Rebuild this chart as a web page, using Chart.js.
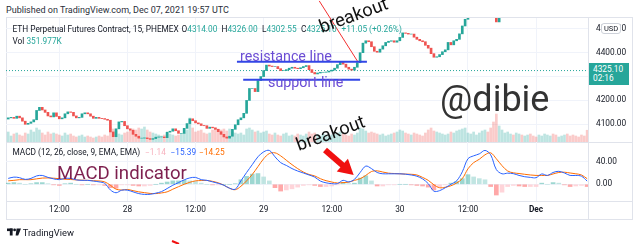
<!DOCTYPE html>
<html>
<head>
<meta charset="utf-8">
<script src="https://cdn.jsdelivr.net/npm/chart.js@4.4.0/dist/chart.umd.min.js"></script>
<style>
body{margin:0;width:640px;height:244px;overflow:hidden;position:relative;background:#fff;font-family:Roboto,sans-serif;color:#131722}
.t{position:absolute;white-space:nowrap;line-height:1}
.ln{position:absolute;background:#e0e3eb}
canvas{position:absolute;left:0}
.v{color:#26a69a}
</style>
</head>
<body>
<div class="t" style="left:6px;top:6.3px;font-size:9px;color:#2a2e39">Published on TradingView.com, Dec 07, 2021 19:57 UTC</div>

<div class="ln" style="left:6px;top:17px;width:627px;height:1px"></div>
<div class="ln" style="left:6px;top:17px;width:1px;height:203px"></div>
<div class="ln" style="left:632px;top:17px;width:1px;height:203px"></div>
<div class="ln" style="left:6px;top:219px;width:627px;height:1px"></div>
<div class="ln" style="left:6px;top:142px;width:627px;height:1px"></div>
<div class="ln" style="left:6px;top:201px;width:627px;height:1px"></div>
<div class="ln" style="left:588px;top:17px;width:1px;height:203px"></div>

<canvas id="priceChart" width="640" height="142" style="top:0"></canvas>
<canvas id="macdChart" width="640" height="78" style="top:142px"></canvas>

<!-- legends -->
<div class="t" style="left:12.5px;top:24.9px;font-size:8.3px">ETH Perpetual Futures Contract, 15, PHEMEX</div>
<div class="t" style="left:181.5px;top:24.9px;font-size:8.3px">O<span class="v">4314.00</span></div>
<div class="t" style="left:221.5px;top:24.9px;font-size:8.3px">H<span class="v">4326.00</span></div>
<div class="t" style="left:262px;top:24.9px;font-size:8.3px">L<span class="v">4302.55</span></div>
<div class="t" style="left:301px;top:24.9px;font-size:8.3px">C<span class="v">4325.10</span></div>
<div class="t v" style="left:341.5px;top:24.9px;font-size:8.3px">+11.05 (+0.26%)</div>
<div class="t" style="left:12.5px;top:36.6px;font-size:8.3px">Vol <span class="v">351.977K</span></div>
<div class="t" style="left:12.5px;top:148.2px;font-size:8.3px">MACD (12, 26, close, 9, EMA, EMA)</div>
<div class="t" style="left:145px;top:148.2px;font-size:8.3px;color:#f7b2be">−1.14</div>
<div class="t" style="left:170.5px;top:148.2px;font-size:8.3px;color:#2962ff">−15.39</div>
<div class="t" style="left:199px;top:148.2px;font-size:8.3px;color:#ff6d00">−14.25</div>

<!-- price axis badges -->
<div style="position:absolute;left:601px;top:23px;width:20px;height:11px;box-sizing:border-box;border:1px solid #cdd1d9;border-radius:3px;background:#fff;font-size:7.5px;line-height:9px;text-align:center">USD</div>
<div style="position:absolute;left:589px;top:63px;width:40px;height:22px;background:#26a69a;color:#fff;font-size:8.3px;line-height:9.5px;padding:1.5px 0 0 4px;box-sizing:border-box">4325.10<br>02:16</div>

<!-- hand-drawn notes -->
<div class="t" style="left:240px;top:48.5px;font-size:14.3px;color:#6a4cd4">resistance line</div>
<div class="t" style="left:268px;top:74.5px;font-size:14.3px;color:#6a4cd4">support line</div>
<div class="t" style="left:322px;top:17.6px;font-size:18.3px;color:#111;transform:rotate(-20deg);transform-origin:0 15.4px">breakout</div>
<div class="t" style="left:299px;top:135.6px;font-size:18.3px;color:#111;transform:rotate(-20deg);transform-origin:0 15.4px">breakout</div>
<div class="t" style="left:440px;top:81.2px;font-size:36px;color:#333">@dibie</div>
<div class="t" style="left:57px;top:163.6px;font-size:18.6px;color:#7d1f4e">MACD indicator</div>

<svg width="640" height="244" style="position:absolute;left:0;top:0">
  <g transform="translate(325,150) rotate(41)" fill="#f01010">
    <rect x="0" y="-3" width="26" height="6"/>
    <polygon points="23,-8.5 38,0 23,8.5"/>
  </g>
  <line x1="172" y1="241" x2="179" y2="244" stroke="#f01010" stroke-width="2"/>
  <g fill="#131722">
    <rect x="7" y="228.5" width="5.6" height="2.6"/>
    <rect x="9.8" y="228.5" width="2.8" height="7"/>
    <circle cx="14.6" cy="229.9" r="1.4"/>
    <polygon points="16.6,228.5 21,228.5 18.2,235.5 15.6,235.5"/>
  </g>
</svg>
<div class="t" style="left:22.7px;top:227.6px;font-size:9.3px">TradingView</div>

<script>
// time axis: hours since Nov 27 00:00
const tickHours = [12, 24, 36, 48, 60, 72, 84, 96];
const tickLabels = ['12:00', '28', '12:00', '29', '12:00', '30', '12:00', 'Dec'];
const priceTicks = [4100, 4200, 4300, 4400, 4500];
const macdTicks = [0, 40];

// 30 minute candles from h=3
const candleStart = 3;
const candleStep = 0.5;
const firstOpen = 4122;
const closes = [
  4127, 4129, 4125, 4134, 4127, 4113, 4100, 4104, 4110, 4119,
  4158, 4171, 4160, 4150, 4135, 4131, 4148, 4133, 4123, 4127,
  4144, 4152, 4150, 4135, 4127, 4129, 4144, 4148, 4144, 4134,
  4125, 4129, 4125, 4124, 4121, 4117, 4068, 4048, 4081, 4110,
  4112, 4094, 4081, 4075, 4058, 4050, 4042, 4042, 4043, 4040,
  4037, 4040, 4046, 4047, 4047, 4044, 4067, 4071, 4081, 4073,
  4062, 4062, 4083, 4103, 4123, 4115, 4106, 4102, 4095, 4094,
  4083, 4088, 4085, 4079, 4069, 4058, 4047, 4042, 4050, 4079,
  4098, 4119, 4127, 4146, 4200, 4250, 4250, 4237, 4283, 4300,
  4325, 4348, 4344, 4342, 4342, 4333, 4325, 4325, 4329, 4335,
  4339, 4335, 4333, 4337, 4342, 4346, 4329, 4317, 4311, 4315,
  4318, 4318, 4319, 4323, 4327, 4335, 4350, 4360, 4352, 4339,
  4331, 4327, 4339, 4358, 4400, 4440, 4450, 4446, 4425, 4406,
  4402, 4415, 4429, 4443, 4448, 4450, 4444, 4450, 4464, 4483,
  4481, 4478, 4478, 4465, 4456, 4450, 4446, 4431, 4419, 4396,
  4381, 4383, 4392, 4404, 4412, 4443, 4433, 4450, 4456, 4479,
  4512, 4540, 4556, 4570, 4585, 4600, 4622, 4641, 4655, 4648,
  4622, 4588, 4529, 4560, 4578, 4590, 4598, 4605, 4596, 4610,
  4618, 4612, 4625, 4630, 4621, 4615, 4608, 4616, 4624, 4630,
  4638, 4645, 4636, 4628, 4632, 4641, 4649, 4640, 4633, 4627,
  4620, 4614, 4610, 4605, 4598
];
// volume in K
const volumes = [
  300, 180, 240, 270, 210, 180, 270, 240, 360, 300,
  420, 360, 270, 210, 300, 240, 270, 240, 210, 180,
  270, 210, 240, 180, 150, 180, 210, 150, 180, 150,
  120, 150, 180, 150, 210, 180, 450, 390, 330, 240,
  210, 270, 300, 330, 390, 360, 420, 390, 450, 360,
  300, 270, 240, 210, 180, 210, 270, 240, 210, 180,
  210, 240, 270, 360, 720, 420, 300, 330, 360, 270,
  240, 270, 360, 420, 390, 360, 390, 330, 390, 300,
  270, 240, 270, 210, 390, 420, 360, 300, 330, 270,
  300, 330, 240, 210, 270, 210, 180, 240, 270, 180,
  210, 180, 240, 210, 180, 240, 300, 240, 270, 210,
  180, 240, 210, 180, 210, 240, 270, 300, 240, 210,
  180, 240, 210, 270, 420, 390, 330, 270, 300, 270,
  240, 210, 240, 180, 210, 240, 270, 300, 360, 330,
  270, 240, 210, 270, 240, 210, 180, 270, 360, 420,
  330, 300, 270, 240, 210, 240, 300, 270, 330, 360,
  390, 420, 270, 240, 300, 210, 270, 330, 360, 300,
  420, 600, 840, 480, 360, 270, 300, 240, 210, 270,
  240, 210, 180, 210, 240, 180, 150, 210, 180, 240,
  210, 180, 240, 210, 150, 180, 210, 240, 180, 210,
  180, 150, 210, 180, 352
];

// MACD, hourly from h=3
const macdStart = 3;
const macdLine = [
  10.4, 12.7, 11.7, 8.7, 10.4, 14.8, 15.7, 12.2, 9.6, 8.2,
  10.4, 10.4, 7.8, 7.0, 7.0, 5.7, 4.3, 1.7, -10, -15,
  -10.4, -10.4, -13.4, -16.5, -17.9, -17.7, -15.7, -13.0, -7.5, -1.7,
  3.0, 7.8, 11.3, 12.2, 8.2, 7.0, 4.3, 1.7, -1.7, -7.0,
  -8.7, 6.1, 20.9, 34.8, 48.7, 57.4, 60.0, 48.7, 38.3, 33.4,
  27.8, 23.5, 20.0, 16.5, 12.7, 5.7, 2.6, 1.2, 1.2, 7.0,
  4.3, 8.7, 20.9, 32.2, 27.8, 20.9, 18.6, 18.6, 18.6, 18.6,
  17.9, 16.5, 14.3, 9.6, 1.2, -12.2, -11.3, -6.1, 0, 6.1,
  22.0, 45.2, 50.4, 53.9, 60.0, 52.2, 26.1, 18.6, 19.7, 18.8,
  15.7, 13.4, 12.2, 11.7, 18.3, 15.7, 20.9, 23.0, 20.0, 15.7,
  15.7, 14.3, 5.7
];
const signalLine = [
  6.1, 7.0, 8.2, 8.2, 8.2, 9.6, 11.0, 11.3, 10.8, 9.9,
  9.0, 8.5, 7.8, 7.3, 7.0, 6.4, 5.9, 4.3, -1.7, -8.7,
  -10.1, -9.2, -11.3, -13.4, -14.8, -16.2, -16.5, -15.3, -13.4, -8.7,
  -4.3, 0, 3.5, 6.1, 6.6, 6.8, 5.2, 2.6, -1.7, -7.0,
  -9.6, -3.5, 6.1, 17.4, 31.3, 45.2, 54.4, 55.7, 50.4, 42.6,
  34.8, 27.8, 21.7, 17.4, 14.8, 9.9, 6.4, 4.0, 2.3, 3.1,
  3.8, 7.0, 9.9, 15.7, 22.6, 23.8, 21.7, 19.7, 19.1, 18.6,
  18.1, 17.7, 16.5, 12.2, 7.0, -0.9, -6.1, -5.2, -2.6, 2.3,
  10.0, 27.4, 38.3, 44.3, 52.2, 55.7, 45.2, 33.0, 23.5, 20.3,
  19.1, 17.7, 16.5, 15.7, 15.7, 15.7, 18.3, 20.9, 21.4, 20.0,
  18.6, 16.5, 9.9
];
const histogram = [
  2, 3, 2, 0, 1, 3, 3, 1, -1, -2,
  1, 2, 0, -1, 0, -1, -1, -2,
  -6, -7, -1, -1, -2, -3, -3, -2, 0, 2,
  4, 6, 6, 7, 6, 5, 2, 0, -1, -1,
  0, 0, 1, 8, 14, 18, 19, 13, 6, -6,
  -12, -10, -8, -5, -2, -1, -2, -4, -4, -3,
  -1, 3, 1, 2, 11, 15, 6, -3, -3, -1,
  -1, 0, 0, -1, -2, -3, -5, -10, -5, -1,
  2, 5, 10, 17, 13, 10, 8, -4, -19, -14,
  -4, -2, -3, -4, -4, -4, 2, 0, 3, 2,
  -1, -4, -3, -2, -4
];

const lastPrice = 4325.10;
const resistance = { from: 43.3, to: 66.2, price: 4362 };
const support = { from: 44.4, to: 65.0, price: 4287 };
const breakoutLine = [{ x: 57.8, y: 4617 }, { x: 64.6, y: 4362 }];

const xMin = 2.61, xMax = 105.15;
const UP = '#26a69a', DOWN = '#ef5350';

Chart.defaults.font.family = 'Roboto';
Chart.defaults.font.size = 8.3;
Chart.defaults.color = '#131722';

const hours = (start, step, n) => Array.from({ length: n }, (_, i) => start + i * step);
const cx = hours(candleStart, candleStep, closes.length);
const opens = closes.map((c, i) => i ? closes[i - 1] : firstOpen);
const isUp = i => closes[i] >= opens[i];

const grid = '#f0f3fa';
const setTicks = vals => s => { s.ticks = vals.map(v => ({ value: v })); };
// fixed axis sizes, and no extra label padding pushed onto the chart area
const fitY = s => { s.width = 45; s.paddingTop = 0; s.paddingBottom = 0; };
const fitX = h => s => { s.height = h; s.paddingLeft = 0; s.paddingRight = 0; };

new Chart(document.getElementById('priceChart'), {
  type: 'bar',
  data: {
    datasets: [
      { type: 'line', data: [{ x: resistance.from, y: resistance.price }, { x: resistance.to, y: resistance.price }],
        borderColor: '#3246e6', borderWidth: 2, pointRadius: 0, order: 0 },
      { type: 'line', data: [{ x: support.from, y: support.price }, { x: support.to, y: support.price }],
        borderColor: '#3246e6', borderWidth: 2, pointRadius: 0, order: 0 },
      { type: 'line', data: breakoutLine, borderColor: '#f23030', borderWidth: 1, pointRadius: 0, clip: false, order: 0 },
      { data: cx.map((x, i) => ({ x, y: [opens[i], closes[i]] })),
        backgroundColor: c => isUp(c.dataIndex) ? UP : DOWN,
        barThickness: 2, grouped: false, order: 1 },
      { type: 'line', data: [{ x: xMin, y: lastPrice }, { x: xMax, y: lastPrice }],
        borderColor: '#26a69a', borderWidth: 1, borderDash: [1, 2], pointRadius: 0, order: 2 },
      { data: cx.map((x, i) => ({ x, y: volumes[i] })), yAxisID: 'yv',
        backgroundColor: c => isUp(c.dataIndex) ? 'rgba(38,166,154,0.3)' : 'rgba(239,83,80,0.3)',
        barThickness: 2, grouped: false, order: 3 }
    ]
  },
  options: {
    responsive: false, animation: false, devicePixelRatio: 1,
    layout: { padding: { left: 6, right: 7, top: 18, bottom: 0 } },
    plugins: { legend: { display: false }, tooltip: { enabled: false } },
    scales: {
      x: { type: 'linear', min: xMin, max: xMax, offset: false,
        afterBuildTicks: setTicks(tickHours),
        ticks: { display: false },
        grid: { color: grid, drawTicks: false, offset: false }, border: { display: false },
        afterFit: fitX(0) },
      y: { position: 'right', min: 4025.8, max: 4545.4,
        afterBuildTicks: setTicks(priceTicks),
        ticks: { padding: 8, callback: v => v.toFixed(2) },
        grid: { color: grid, drawTicks: false }, border: { display: false },
        afterFit: fitY },
      yv: { display: false, min: 0, max: 3720 }
    }
  }
});

new Chart(document.getElementById('macdChart'), {
  type: 'bar',
  data: {
    datasets: [
      { type: 'line', data: hours(macdStart, 1, macdLine.length).map((x, i) => ({ x, y: macdLine[i] })),
        borderColor: '#2962ff', borderWidth: 1, pointRadius: 0, tension: 0.35, order: 0 },
      { type: 'line', data: hours(macdStart, 1, signalLine.length).map((x, i) => ({ x, y: signalLine[i] })),
        borderColor: '#ff6d00', borderWidth: 1, pointRadius: 0, tension: 0.35, order: 1 },
      { data: hours(macdStart, 1, histogram.length).map((x, i) => ({ x, y: histogram[i] })),
        backgroundColor: c => {
          const v = histogram[c.dataIndex], p = c.dataIndex ? histogram[c.dataIndex - 1] : 0;
          if (v >= 0) return v >= p ? 'rgba(38,166,154,0.45)' : 'rgba(178,223,219,0.8)';
          return v < p ? 'rgba(255,82,82,0.5)' : 'rgba(255,205,210,0.85)';
        },
        barThickness: 4, grouped: false, order: 2 }
    ]
  },
  options: {
    responsive: false, animation: false, devicePixelRatio: 1,
    layout: { padding: { left: 6, right: 7, top: 0, bottom: 0 } },
    plugins: { legend: { display: false }, tooltip: { enabled: false } },
    scales: {
      x: { type: 'linear', min: xMin, max: xMax, offset: false,
        afterBuildTicks: setTicks(tickHours),
        ticks: { padding: 4, maxRotation: 0, autoSkip: false,
          callback: v => tickLabels[tickHours.indexOf(v)],
          font: c => ({ size: 8.3, weight: c.tick && c.tick.label === 'Dec' ? 'bold' : 'normal' }) },
        grid: { color: grid, drawTicks: false, offset: false }, border: { display: false },
        afterFit: fitX(19) },
      y: { position: 'right', min: -29.6, max: 74.9,
        afterBuildTicks: setTicks(macdTicks),
        ticks: { padding: 8, callback: v => v.toFixed(2) },
        grid: { color: grid, drawTicks: false }, border: { display: false },
        afterFit: fitY }
    }
  }
});
</script>
</body>
</html>
